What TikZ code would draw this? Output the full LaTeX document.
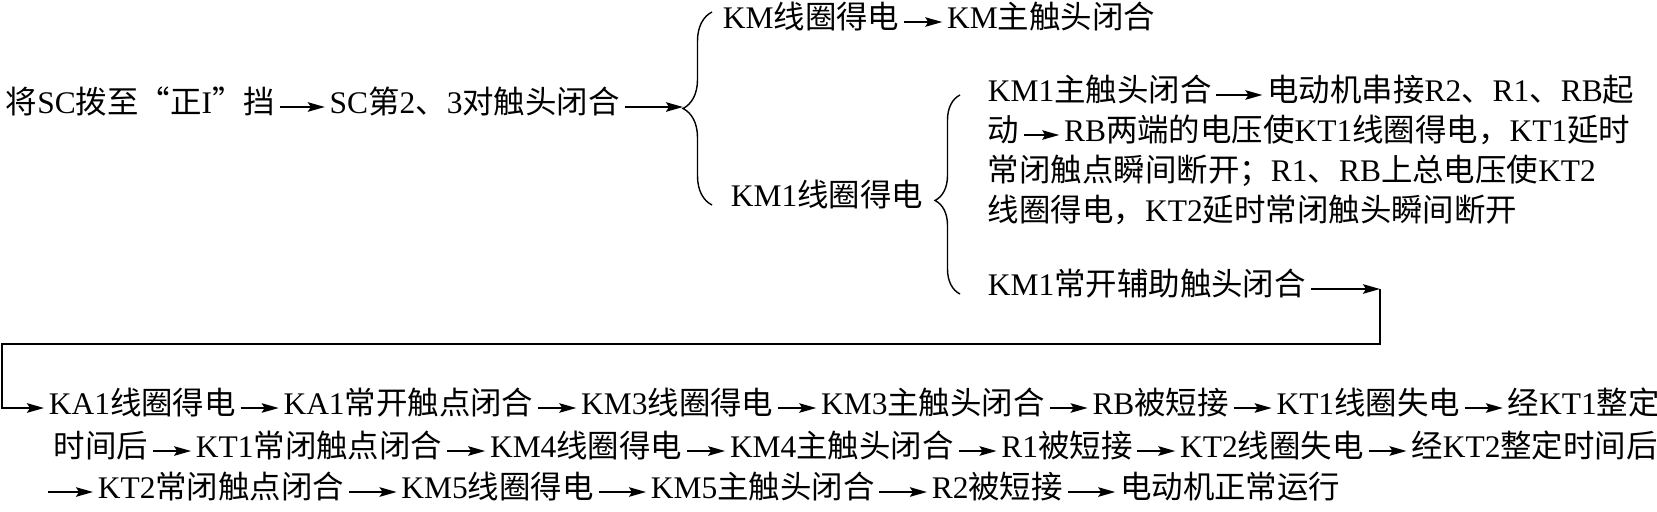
\documentclass[tikz,border=0pt]{standalone}
\usepackage{fontspec}
\setmainfont{Liberation Serif}
\newfontfamily\cjk{Noto Sans CJK SC}
\usetikzlibrary{positioning, arrows.meta, decorations.pathreplacing}

% Chinese characters switch to the CJK font by themselves
\XeTeXinterchartokenstate=1
\chardef\cjkcls=7
\newcount\cjkcnt
\cjkcnt="3000
\loop\XeTeXcharclass\cjkcnt=\cjkcls \ifnum\cjkcnt<"9FFF \advance\cjkcnt by 1 \repeat
\cjkcnt="FF00
\loop\XeTeXcharclass\cjkcnt=\cjkcls \ifnum\cjkcnt<"FFEF \advance\cjkcnt by 1 \repeat
\XeTeXcharclass"201C=\cjkcls
\XeTeXcharclass"201D=\cjkcls
\XeTeXinterchartoks 0 \cjkcls={\begingroup\cjk}
\XeTeXinterchartoks 4095 \cjkcls={\begingroup\cjk}
\XeTeXinterchartoks \cjkcls 0={\endgroup}
\XeTeXinterchartoks \cjkcls 4095={\endgroup}

\begin{document}
\begin{tikzpicture}[x=0.02cm, y=-0.02cm, node distance=0.76cm, line width=1pt,
  font=\fontsize{17.9}{21}\selectfont,
  txt/.style={inner xsep=0.08cm, inner ysep=0pt, text height=0.88em, text depth=0.12em},
  arr/.style={-{Stealth[length=0.34cm, width=0.19cm, inset=0.06cm]}}]

  \useasboundingbox (0,0) rectangle (1657,511);

  % Start
  \node[txt, anchor=west] (a1) at (1,107) {将SC拨至“正I”挡};
  \node[txt, right=0.9cm of a1] (a2) {SC第2、3对触头闭合};
  \coordinate (tip1) at (683,107);

  % Branches
  \node[txt, anchor=west] (b1) at (718,22) {KM线圈得电};
  \node[txt, right=of b1] (b2) {KM主触头闭合};
  \node[txt, anchor=west] (c1) at (726,200) {KM1线圈得电};

  % KM1 block
  \node[txt, anchor=west] (d1) at (983,95) {KM1主触头闭合};
  \node[txt, right=0.92cm of d1] (d2) {电动机串接R2、R1、RB起};
  \node[txt, anchor=west] (d3) at (983,135) {动};
  \node[txt, right=0.7cm of d3] (d4) {RB两端的电压使KT1线圈得电，KT1延时};
  \node[txt, anchor=west] (d5) at (983,175) {常闭触点瞬间断开；R1、RB上总电压使KT2};
  \node[txt, anchor=west] (d6) at (983,215) {线圈得电，KT2延时常闭触头瞬间断开};
  \node[txt, anchor=west] (e1) at (983,289) {KM1常开辅助触头闭合};

  % Turn
  \coordinate (t1) at (1380,289);
  \coordinate (t2) at (1380,344);
  \coordinate (t3) at (2,344);
  \coordinate (t4) at (2,408);

  % Bottom lines
  \node[txt, anchor=west] (f1) at (44,408) {KA1线圈得电};
  \node[txt, right=of f1] (f2) {KA1常开触点闭合};
  \node[txt, right=of f2] (f3) {KM3线圈得电};
  \node[txt, right=of f3] (f4) {KM3主触头闭合};
  \node[txt, right=of f4] (f5) {RB被短接};
  \node[txt, right=of f5] (f6) {KT1线圈失电};
  \node[txt, right=of f6] (f7) {经KT1整定};

  \node[txt, anchor=west] (h1) at (49,451) {时间后};
  \node[txt, right=of h1] (h2) {KT1常闭触点闭合};
  \node[txt, right=of h2] (h3) {KM4线圈得电};
  \node[txt, right=of h3] (h4) {KM4主触头闭合};
  \node[txt, right=of h4] (h5) {R1被短接};
  \node[txt, right=of h5] (h6) {KT2线圈失电};
  \node[txt, right=of h6] (h7) {经KT2整定时间后};

  \coordinate (s3) at (48,492);
  \node[txt, anchor=west] (g1) at (93,492) {KT2常闭触点闭合};
  \node[txt, right=0.95cm of g1] (g2) {KM5线圈得电};
  \node[txt, right=0.95cm of g2] (g3) {KM5主触头闭合};
  \node[txt, right=0.95cm of g3] (g4) {R2被短接};
  \node[txt, right=0.95cm of g4] (g5) {电动机正常运行};

  % Braces
  \draw[decorate, decoration={brace, amplitude=0.58cm}, line width=0.8pt] (712,205) -- (712,12);
  \draw[decorate, decoration={brace, amplitude=0.5cm, aspect=0.47}, line width=0.8pt] (960,294) -- (960,95);

  % Arrows
  \draw[arr] (a1) -- (a2);
  \draw[arr] (a2) -- (tip1);
  \draw[arr] (b1) -- (b2);
  \draw[arr] (d1) -- (d2);
  \draw[arr] (d3) -- (d4);
  \draw[arr] (e1) -- (t1);
  \draw[arr, line width=1.3pt] (t1) -- (t2) -- (t3) -- (t4) -- (f1);
  \foreach \i/\j in {1/2, 2/3, 3/4, 4/5, 5/6, 6/7} {
    \draw[arr] (f\i) -- (f\j);
    \draw[arr] (h\i) -- (h\j);
  }
  \draw[arr] (s3) -- (g1);
  \foreach \i/\j in {1/2, 2/3, 3/4, 4/5}
    \draw[arr] (g\i) -- (g\j);

\end{tikzpicture}
\end{document}
